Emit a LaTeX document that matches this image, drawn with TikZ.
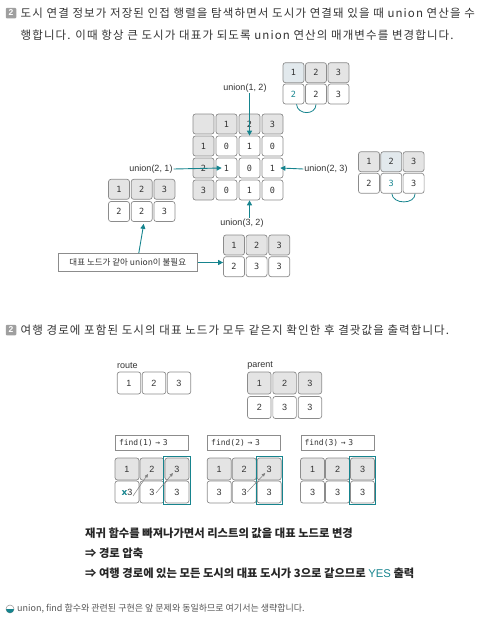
\documentclass[tikz,border=0pt]{standalone}
\usepackage{fontspec}
\setmainfont{Noto Sans CJK KR}
\newfontfamily\headfont[LetterSpace=9.5]{Noto Sans CJK KR}
\newfontfamily\labelfont{Liberation Sans}
\newfontfamily\cellfont{DejaVu Sans Mono}
\usetikzlibrary{arrows.meta,positioning}

\definecolor{tealc}{HTML}{16848E}
\definecolor{cellline}{HTML}{8C8C8C}
\definecolor{cellfill}{HTML}{E4E4E4}
\definecolor{cellhi}{HTML}{E2E9ED}
\definecolor{inkc}{HTML}{333333}
\definecolor{notec}{HTML}{555555}

\newcommand{\xmark}{{\color{tealc}\fontspec{DejaVu Sans}\bfseries x}}

\tikzset{
  cell/.style={draw=cellline,line width=0.7pt,rounded corners=2.5pt,
    minimum width=21pt,minimum height=20pt,inner sep=0pt,
    font=\cellfont\fontsize{8.5}{9}\selectfont,text=inkc},
  hcell/.style={cell,fill=cellfill},
  hicell/.style={cell,fill=cellhi},
  tcell/.style={cell,text=tealc},
  bcell/.style={cell,minimum width=23.5pt,minimum height=22pt,
    font=\labelfont\fontsize{9}{9}\selectfont},
  bhcell/.style={bcell,fill=cellfill},
  numbox/.style={fill=gray!75,rounded corners=1pt,minimum size=10.5pt,inner sep=0pt,
    text=white,font=\labelfont\bfseries\fontsize{8.5}{9}\selectfont},
  headtxt/.style={anchor=west,inner sep=0pt,text=inkc,font=\headfont\fontsize{11.5}{12}\selectfont},
  ulabel/.style={inner sep=1pt,text=inkc,font=\labelfont\fontsize{9}{10}\selectfont},
  uarrow/.style={draw=tealc,line width=0.9pt,-{Triangle[length=5pt,width=5pt]}},
  ftarrow/.style={draw=gray,line width=0.5pt,-{Triangle[length=3.5pt,width=3pt]}},
  notebox/.style={draw=cellline,line width=0.7pt,minimum width=139pt,minimum height=18pt,
    text=inkc,font=\fontsize{8.5}{9}\selectfont},
  findbox/.style={draw=cellline,line width=0.7pt,text width=66pt,minimum height=15.5pt,
    inner sep=3.5pt,align=left,text=inkc,font=\cellfont\fontsize{8}{8}\selectfont},
  handtxt/.style={anchor=west,inner sep=0pt,text=black!85,font=\bfseries\fontsize{11.3}{11}\selectfont},
}

\begin{document}
\begin{tikzpicture}[x=1pt,y=-1pt]
  \useasboundingbox (0,0) rectangle (485,624);

  % heading 1
  \node[numbox] (n1) at (11,13) {2};
  \node[headtxt] (h1a) at (20.5,13) {도시 연결 정보가 저장된 인접 행렬을 탐색하면서 도시가 연결돼 있을 때 union 연산을 수};
  \node[headtxt] (h1b) at (20.5,35) {행합니다. 이때 항상 큰 도시가 대표가 되도록 union 연산의 매개변수를 변경합니다.};

  % adjacency matrix
  \node[hcell] (m00) at (203.5,124) {};
  \foreach \j in {1,2,3}
    \node[hcell] (m0\j) at ({203.5+23*\j},124) {\j};
  \foreach \r/\a/\b/\c in {1/0/1/0,2/1/0/1,3/0/1/0}{
    \node[hcell] (m\r0) at (203.5,{124+22*\r}) {\r};
    \node[cell] (m\r1) at (226.5,{124+22*\r}) {\a};
    \node[cell] (m\r2) at (249.5,{124+22*\r}) {\b};
    \node[cell] (m\r3) at (272.5,{124+22*\r}) {\c};
  }

  % union labels
  \node[ulabel] (u12) at (245,88) {union(1, 2)};
  \node[ulabel] (u21) at (151,169) {union(2, 1)};
  \node[ulabel] (u23) at (326,169) {union(2, 3)};
  \node[ulabel] (u32) at (242,223) {union(3, 2)};
  \draw[uarrow] (u12.south -| m12) -- (m12.north);
  \draw[uarrow] (u21.east) -- ([xshift=6pt]m21.west);
  \draw[uarrow] (u23.west) -- ([xshift=-3pt]m23.east);
  \draw[uarrow] (u32.north -| m32) -- (m32.south);

  % parent after union(1,2)
  \foreach \i/\ts/\t/\bs/\b in {1/hicell/1/tcell/2,2/hcell/2/cell/2,3/hcell/3/cell/3}{
    \node[\ts] (pa\i) at ({271+22.5*\i},72.7) {\t};
    \node[\bs] (pb\i) at ({271+22.5*\i},94) {\b};
  }
  \draw[tealc,line width=0.8pt] ([xshift=3pt]pb1.south) .. controls +(1,11) and +(0,11) .. (pb2.south);

  % parent after union(2,3)
  \foreach \i/\ts/\t/\bs/\b in {1/hcell/1/cell/2,2/hicell/2/tcell/3,3/hcell/3/cell/3}{
    \node[\ts] (qa\i) at ({346.7+22.3*\i},161.7) {\t};
    \node[\bs] (qb\i) at ({346.7+22.3*\i},183.3) {\b};
  }
  \draw[tealc,line width=0.8pt] ([xshift=0.5pt]qb2.south) .. controls +(1,11) and +(0,11) .. ([xshift=1.5pt]qb3.south);

  % parent after union(2,1)
  \foreach \i/\t/\b in {1/1/2,2/2/2,3/3/3}{
    \node[hcell] (ra\i) at ({96.3+22.7*\i},189.3) {\t};
    \node[cell] (rb\i) at ({96.3+22.7*\i},211.5) {\b};
  }

  % parent after union(3,2)
  \foreach \i/\t/\b in {1/1/2,2/2/3,3/3/3}{
    \node[hcell] (sa\i) at ({211.4+22.6*\i},245) {\t};
    \node[cell] (sb\i) at ({211.4+22.6*\i},266.7) {\b};
  }

  % note
  \node[notebox] (note) at (127.8,262.5) {대표 노드가 같아 union이 불필요};
  \draw[uarrow] ([xshift=11pt]note.north) -- ([xshift=2pt,yshift=-2pt]rb2.south);
  \draw[uarrow] (note.east) -- (note.east -| sb1.west);

  % heading 2
  \node[numbox] (n2) at (11,330) {2};
  \node[headtxt] (h2) at (20.5,330) {여행 경로에 포함된 도시의 대표 노드가 모두 같은지 확인한 후 결괏값을 출력합니다.};

  % route and parent
  \foreach \i in {1,2,3}
    \node[bcell] (ro\i) at ({104+25*\i},383) {\i};
  \foreach \i/\b in {1/2,2/3,3/3}{
    \node[bhcell] (pt\i) at ({234+25.3*\i},383) {\i};
    \node[bcell] (pv\i) at ({234+25.3*\i},407.5) {\b};
  }
  \node[ulabel,anchor=south west,inner sep=0pt] (lroute) at ([yshift=2.5pt]ro1.north west) {route};
  \node[ulabel,anchor=south west,inner sep=0pt] (lparent) at ([yshift=2.5pt]pt1.north west) {parent};

  % find steps
  \foreach \g/\gx in {1/102,2/194.2,3/287.5}{
    \node[findbox] (fb\g) at ({\gx+50},443) {find(\g) → 3};
    \foreach \i in {1,2,3}{
      \node[bhcell,minimum width=24pt] (f\g t\i) at ({\gx+25*\i},469) {\i};
      \node[bcell,minimum width=24pt] (f\g b\i) at ({\gx+25*\i},492) {\ifnum\g\i=11 \xmark\fi 3};
    }
    \draw[tealc,line width=0.8pt] ([shift={(-0.8,-1.5)}]f\g t3.north west) rectangle ([shift={(0.8,1)}]f\g b3.south east);
  }
  \draw[ftarrow] ([shift={(6,4)}]f1b1.center) -- ([shift={(-4,5)}]f1t2.center);
  \draw[ftarrow] ([shift={(4,1)}]f1b2.center) -- ([shift={(-4,4)}]f1t3.center);
  \draw[ftarrow] ([shift={(3,0)}]f2b2.center) -- ([shift={(-4,4)}]f2t3.center);

  % hand notes
  \node[handtxt] (t1) at (85,533) {재귀 함수를 빠져나가면서 리스트의 값을 대표 노드로 변경};
  \node[handtxt] (t2) at (85,553.5) {⇒ 경로 압축};
  \node[handtxt] (t3) at (85,573.5) {⇒ 여행 경로에 있는 모든 도시의 대표 도시가 3으로 같으므로 {\labelfont\mdseries\color{tealc}YES} 출력};

  % footnote
  \draw[cellline,fill=white,line width=0.5pt] (10,609) circle (4);
  \fill[tealc] (6,609) arc[start angle=180,end angle=0,radius=4] -- cycle;
  \node[anchor=west,inner sep=0pt,text=notec,font=\fontsize{9}{9}\selectfont] (foot) at (17,609) {union, find 함수와 관련된 구현은 앞 문제와 동일하므로 여기서는 생략합니다.};
\end{tikzpicture}
\end{document}
